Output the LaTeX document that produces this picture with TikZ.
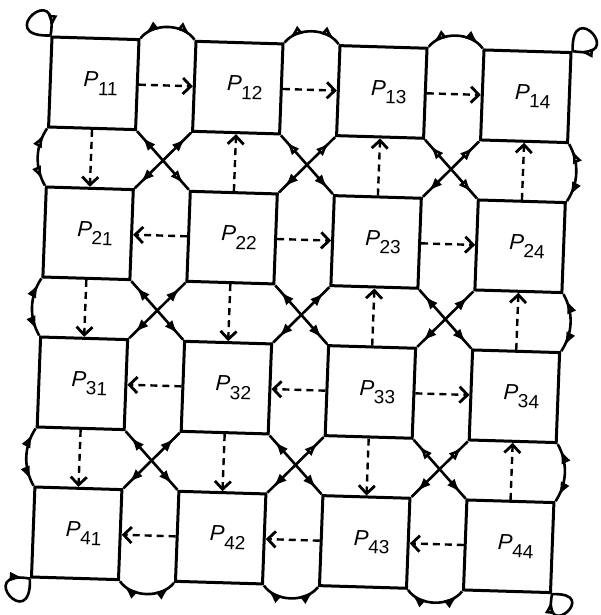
\documentclass[tikz,border=0pt]{standalone}
\usepackage{fontspec}
\setmainfont{Liberation Sans}
\usetikzlibrary{arrows.meta,decorations.markings}
\newcommand{\lbl}[1]{\hspace*{14pt}{\fontsize{22}{22}\selectfont\itshape P}\raisebox{-8pt}{\fontsize{19}{19}\selectfont #1}}
\tikzset{
  sq/.style={draw, line width=3pt, minimum width=87pt, minimum height=90pt, inner sep=0pt, transform shape},
  bi/.style 2 args={line width=2.6pt, postaction={decorate, decoration={markings,
     mark=at position 0.1 with {\arrowreversed{#1}},
     mark=at position 0.9 with {\arrow{#2}}}}},
  ff/.style={bi={Latex[length=14pt,width=10pt]}{Latex[length=14pt,width=10pt]}},
  fo/.style={bi={Latex[length=14pt,width=10pt]}{Latex[open,fill=white,length=14pt,width=10pt]}},
  of/.style={bi={Latex[open,fill=white,length=14pt,width=10pt]}{Latex[length=14pt,width=10pt]}},
  oo/.style={bi={Latex[open,fill=white,length=14pt,width=10pt]}{Latex[open,fill=white,length=14pt,width=10pt]}},
  lf/.style={line width=2.6pt, postaction={decorate, decoration={markings,
     mark=at position 0.92 with {\arrow{Latex[length=14pt,width=10pt]}}}}},
  lo/.style={line width=2.6pt, postaction={decorate, decoration={markings,
     mark=at position 0.92 with {\arrow{Latex[open,fill=white,length=14pt,width=10pt]}}}}},
  darr/.style={line width=2.4pt, dash pattern=on 7pt off 5pt,
     -{Straight Barb[length=8pt,width=16pt,line width=2.8pt]}}
}
\begin{document}
\begin{tikzpicture}[x=1pt,y=-1pt]
\useasboundingbox (0,0) rectangle (601,615);
\begin{scope}[cm={1,-0.03,0.038,1,(52pt,-37pt)}]
\foreach \i in {1,...,4}{
  \foreach \j in {1,...,4}{
    \node[sq] (p\i\j) at ({43.5+144*(\j-1)},{45+150*(\i-1)}) {\lbl{\i\j}};
  }
}
% diagonal crossings, row gap 1-2
\draw[fo] (p11.south east) -- (p22.north west);
\draw[ff] (p12.south west) -- (p21.north east);
\draw[of] (p12.south east) -- (p23.north west);
\draw[of] (p13.south west) -- (p22.north east);
\draw[oo] (p13.south east) -- (p24.north west);
\draw[of] (p14.south west) -- (p23.north east);
% row gap 2-3
\draw[ff] (p21.south east) -- (p32.north west);
\draw[ff] (p22.south west) -- (p31.north east);
\draw[ff] (p22.south east) -- (p33.north west);
\draw[ff] (p23.south west) -- (p32.north east);
\draw[ff] (p23.south east) -- (p34.north west);
\draw[ff] (p24.south west) -- (p33.north east);
% row gap 3-4
\draw[ff] (p31.south east) -- (p42.north west);
\draw[ff] (p32.south west) -- (p41.north east);
\draw[ff] (p32.south east) -- (p43.north west);
\draw[of] (p33.south west) -- (p42.north east);
\draw[of] (p33.south east) -- (p44.north west);
\draw[of] (p34.south west) -- (p43.north east);
% top arcs
\draw[fo] (p11.north east) .. controls +(12,-16) and +(-12,-16) .. (p12.north west);
\draw[oo] (p12.north east) .. controls +(12,-16) and +(-12,-16) .. (p13.north west);
\draw[of] (p13.north east) .. controls +(12,-16) and +(-12,-16) .. (p14.north west);
% bottom arcs
\draw[ff] (p41.south east) .. controls +(12,16) and +(-12,16) .. (p42.south west);
\draw[ff] (p42.south east) .. controls +(12,16) and +(-12,16) .. (p43.south west);
\draw[ff] (p43.south east) .. controls +(12,16) and +(-12,16) .. (p44.south west);
% left arcs
\draw[oo] (p11.south west) .. controls +(-11,18) and +(-11,-18) .. (p21.north west);
\draw[ff] (p21.south west) .. controls +(-11,18) and +(-11,-18) .. (p31.north west);
\draw[ff] (p31.south west) .. controls +(-11,18) and +(-11,-18) .. (p41.north west);
% right arcs
\draw[of] (p14.south east) .. controls +(11,18) and +(11,-18) .. (p24.north east);
\draw[ff] (p24.south east) .. controls +(11,18) and +(11,-18) .. (p34.north east);
\draw[ff] (p34.south east) .. controls +(11,18) and +(11,-18) .. (p44.north east);
% corner loops
\draw[lo] (p11.north west) .. controls +(-58,4) and +(8,-58) .. (p11.north west);
\draw[lo] (p14.north east) .. controls +(-4,-56) and +(56,8) .. (p14.north east);
\draw[lf] (p41.south west) .. controls +(4,56) and +(-56,-8) .. (p41.south west);
\draw[lo] (p44.south east) .. controls +(50,-4) and +(-8,50) .. (p44.south east);
% dashed horizontal
\draw[darr] (p11.east) -- (p12.west);
\draw[darr] (p12.east) -- (p13.west);
\draw[darr] (p13.east) -- (p14.west);
\draw[darr] (p22.west) -- (p21.east);
\draw[darr] (p22.east) -- (p23.west);
\draw[darr] (p23.east) -- (p24.west);
\draw[darr] (p32.west) -- (p31.east);
\draw[darr] (p33.west) -- (p32.east);
\draw[darr] (p33.east) -- (p34.west);
\draw[darr] (p42.west) -- (p41.east);
\draw[darr] (p43.west) -- (p42.east);
\draw[darr] (p44.west) -- (p43.east);
% dashed vertical
\draw[darr] (p11.south) -- (p21.north);
\draw[darr] (p22.north) -- (p12.south);
\draw[darr] (p23.north) -- (p13.south);
\draw[darr] (p24.north) -- (p14.south);
\draw[darr] (p21.south) -- (p31.north);
\draw[darr] (p22.south) -- (p32.north);
\draw[darr] (p33.north) -- (p23.south);
\draw[darr] (p34.north) -- (p24.south);
\draw[darr] (p31.south) -- (p41.north);
\draw[darr] (p32.south) -- (p42.north);
\draw[darr] (p33.south) -- (p43.north);
\draw[darr] (p44.north) -- (p34.south);
\end{scope}
\end{tikzpicture}
\end{document}
